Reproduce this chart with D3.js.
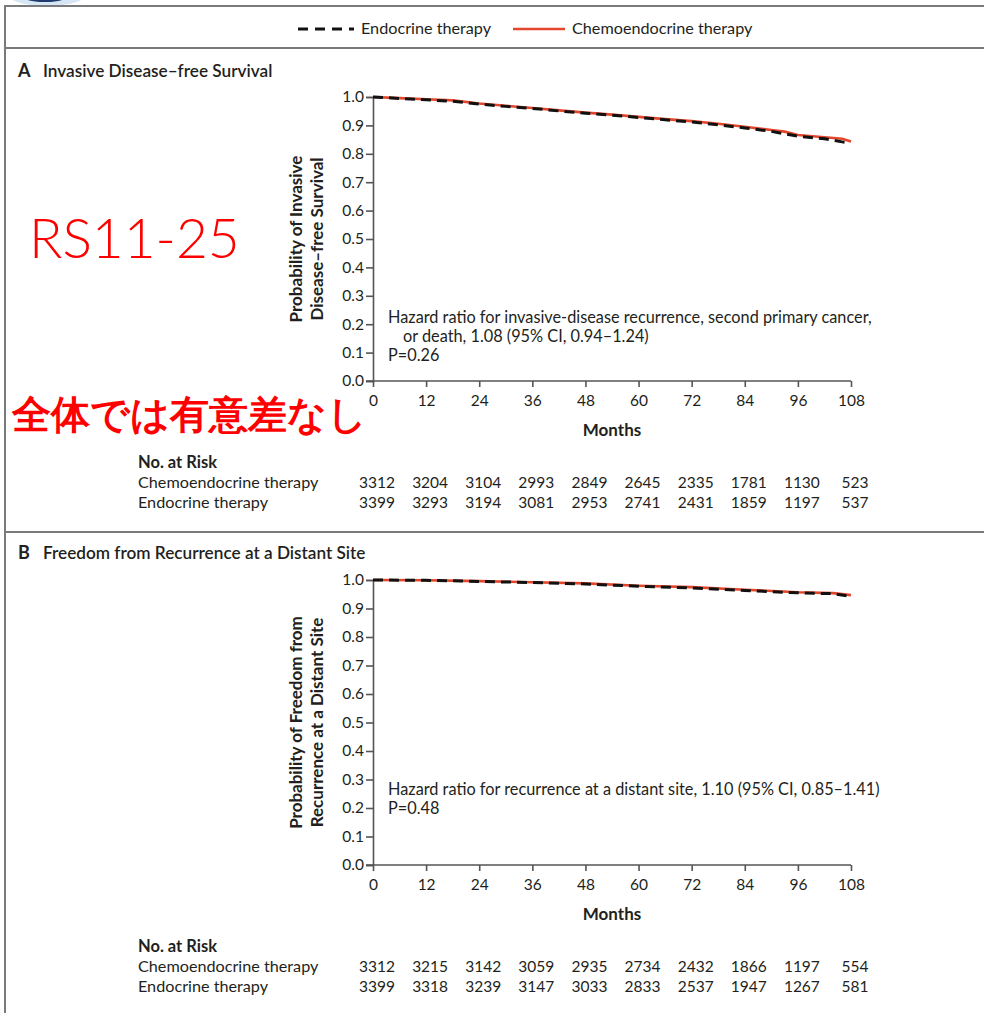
<!DOCTYPE html>
<html>
<head>
<meta charset="utf-8">
<script src="https://cdn.jsdelivr.net/npm/d3@7"></script>
<style>
  html, body { margin: 0; padding: 0; background: #fff; }
  svg { display: block; }
  text { font-family: Lato, "Open Sans", sans-serif; fill: #231f20; }
</style>
</head>
<body>
<svg id="chart" width="984" height="1013"></svg>
<script>
// ---- data ----
const monthTicks = [0, 12, 24, 36, 48, 60, 72, 84, 96, 108];
const yTicks = [0, 0.1, 0.2, 0.3, 0.4, 0.5, 0.6, 0.7, 0.8, 0.9, 1.0];
const seriesNames = ["Endocrine therapy", "Chemoendocrine therapy"];

// Panel A: invasive disease-free survival
const idfsChemoMonths = [0, 6, 12, 18, 24, 30, 36, 42, 48, 54, 60, 66, 72, 78, 84, 90, 93, 96, 102, 106, 108];
const idfsChemoSurv   = [1.0, 0.996, 0.992, 0.988, 0.977, 0.969, 0.961, 0.953, 0.945, 0.938, 0.930, 0.922, 0.915, 0.906, 0.895, 0.884, 0.878, 0.866, 0.858, 0.853, 0.843];
const idfsEndoMonths  = [0, 6, 12, 18, 24, 30, 36, 42, 48, 54, 60, 66, 72, 78, 84, 90, 96, 102, 106, 107];
const idfsEndoSurv    = [1.0, 0.995, 0.990, 0.985, 0.975, 0.967, 0.960, 0.951, 0.943, 0.936, 0.928, 0.920, 0.912, 0.902, 0.891, 0.879, 0.862, 0.853, 0.842, 0.840];
const idfsRiskChemo = [3312, 3204, 3104, 2993, 2849, 2645, 2335, 1781, 1130, 523];
const idfsRiskEndo  = [3399, 3293, 3194, 3081, 2953, 2741, 2431, 1859, 1197, 537];

// Panel B: freedom from distant recurrence
const drfiChemoMonths = [0, 12, 24, 36, 48, 60, 72, 84, 96, 104, 108];
const drfiChemoSurv   = [1.0, 0.999, 0.996, 0.992, 0.988, 0.980, 0.975, 0.966, 0.957, 0.954, 0.947];
const drfiEndoMonths  = [0, 12, 24, 36, 48, 60, 72, 84, 96, 104, 107];
const drfiEndoSurv    = [1.0, 0.999, 0.995, 0.991, 0.986, 0.978, 0.972, 0.963, 0.955, 0.952, 0.945];
const drfiRiskChemo = [3312, 3215, 3142, 3059, 2935, 2734, 2432, 1866, 1197, 554];
const drfiRiskEndo  = [3399, 3318, 3239, 3147, 3033, 2833, 2537, 1947, 1267, 581];

const panels = [
  {
    letter: "A", title: "Invasive Disease\u2013free Survival",
    yTitle: ["Probability of Invasive", "Disease\u2013free Survival"],
    note: ["Hazard ratio for invasive-disease recurrence, second primary cancer,", "or death, 1.08 (95% CI, 0.94\u20131.24)", "P=0.26"],
    chemo: idfsChemoMonths.map((m, i) => [m, idfsChemoSurv[i]]),
    endo: idfsEndoMonths.map((m, i) => [m, idfsEndoSurv[i]]),
    riskChemo: idfsRiskChemo, riskEndo: idfsRiskEndo,
    top: 97, bottom: 381, titleY: 71, noteTop: 323
  },
  {
    letter: "B", title: "Freedom from Recurrence at a Distant Site",
    yTitle: ["Probability of Freedom from", "Recurrence at a Distant Site"],
    note: ["Hazard ratio for recurrence at a distant site, 1.10 (95% CI, 0.85\u20131.41)", "P=0.48"],
    chemo: drfiChemoMonths.map((m, i) => [m, drfiChemoSurv[i]]),
    endo: drfiEndoMonths.map((m, i) => [m, drfiEndoSurv[i]]),
    riskChemo: drfiRiskChemo, riskEndo: drfiRiskEndo,
    top: 580, bottom: 865, titleY: 553, noteTop: 795
  }
];

const RED = "#e2472c";
const FRAME = "#7a7a7a";
const svg = d3.select("#chart");

// ---- logo fragment and frame ----
svg.append("ellipse").attr("cx", 47).attr("cy", -8).attr("rx", 42).attr("ry", 14)
  .attr("fill", "#d7e6f4");
svg.append("ellipse").attr("cx", 45).attr("cy", -9).attr("rx", 30).attr("ry", 11)
  .attr("fill", "#1e3a6e");

svg.append("line").attr("x1", 4).attr("x2", 984).attr("y1", 6).attr("y2", 6)
  .attr("stroke", FRAME).attr("stroke-width", 2);
svg.append("line").attr("x1", 5).attr("x2", 5).attr("y1", 5).attr("y2", 1013)
  .attr("stroke", FRAME).attr("stroke-width", 2);
svg.append("line").attr("x1", 4).attr("x2", 984).attr("y1", 48).attr("y2", 48)
  .attr("stroke", FRAME).attr("stroke-width", 2);
svg.append("line").attr("x1", 4).attr("x2", 984).attr("y1", 532).attr("y2", 532)
  .attr("stroke", FRAME).attr("stroke-width", 2);

// ---- legend ----
const legend = svg.append("g");
legend.append("line").attr("x1", 298).attr("x2", 354).attr("y1", 29).attr("y2", 29)
  .attr("stroke", "#111").attr("stroke-width", 3).attr("stroke-dasharray", "10,7");
legend.append("text").attr("x", 361).attr("y", 34).attr("font-size", 16.2).text(seriesNames[0]);
legend.append("line").attr("x1", 513).attr("x2", 565).attr("y1", 29).attr("y2", 29)
  .attr("stroke", RED).attr("stroke-width", 2.5);
legend.append("text").attr("x", 572).attr("y", 34).attr("font-size", 16.2).text(seriesNames[1]);

// ---- panels ----
const x = d3.scaleLinear().domain([0, 108]).range([373, 851]);

panels.forEach(p => {
  const y = d3.scaleLinear().domain([0, 1]).range([p.bottom, p.top]);
  const g = svg.append("g");

  g.append("text").attr("x", 18).attr("y", p.titleY + 6).attr("font-size", 18)
    .attr("font-weight", 700).text(p.letter);
  g.append("text").attr("x", 43).attr("y", p.titleY + 6).attr("font-size", 17.2)
    .attr("font-weight", 600).text(p.title);

  // y axis
  const yAxis = g.append("g").attr("transform", `translate(${x(0)},0)`)
    .call(d3.axisLeft(y).tickValues(yTicks).tickFormat(d3.format(".1f")).tickSize(7).tickPadding(2));
  // x axis
  const xAxis = g.append("g").attr("transform", `translate(0,${p.bottom})`)
    .call(d3.axisBottom(x).tickValues(monthTicks).tickSize(6).tickPadding(8));
  [yAxis, xAxis].forEach(ax => {
    ax.select(".domain").attr("stroke", "#555").attr("stroke-width", 1.6);
    ax.selectAll(".tick line").attr("stroke", "#555").attr("stroke-width", 1.6);
    ax.selectAll(".tick text").attr("font-size", 15.5).attr("fill", "#231f20")
      .attr("font-family", "Lato, 'Open Sans', sans-serif");
  });
  xAxis.select(".domain").attr("d", `M${x(0) - 7},0H${x(108)}`);

  g.append("text").attr("x", 612).attr("y", p.bottom + 55).attr("text-anchor", "middle")
    .attr("font-size", 17).attr("font-weight", 700).text("Months");

  // y axis title
  const yMid = (p.top + p.bottom) / 2;
  p.yTitle.forEach((line, i) => {
    g.append("text").attr("transform", `translate(${302 + i * 21},${yMid}) rotate(-90)`)
      .attr("text-anchor", "middle").attr("font-size", 17).attr("font-weight", 700).text(line);
  });

  // hazard ratio note
  p.note.forEach((line, i) => {
    const indent = (p.letter === "A" && i === 1) ? 15 : 0;
    g.append("text").attr("x", 388 + indent).attr("y", p.noteTop + i * 19)
      .attr("font-size", 16.3).text(line);
  });

  // survival curves
  const line = d3.line().x(d => x(d[0])).y(d => y(d[1])).curve(d3.curveLinear);
  g.append("path").datum(p.chemo).attr("d", line).attr("fill", "none")
    .attr("stroke", RED).attr("stroke-width", 2.6);
  g.append("path").datum(p.endo).attr("d", line).attr("fill", "none")
    .attr("stroke", "#111").attr("stroke-width", 3).attr("stroke-dasharray", "10,6");

  // number at risk
  const riskTop = p.bottom + 87;
  g.append("text").attr("x", 138).attr("y", riskTop).attr("font-size", 16.5)
    .attr("font-weight", 700).text("No. at Risk");
  [[seriesNames[1], p.riskChemo], [seriesNames[0], p.riskEndo]].forEach(([name, vals], r) => {
    const ry = riskTop + 20 + r * 20;
    g.append("text").attr("x", 138).attr("y", ry).attr("font-size", 16.2).text(name);
    g.selectAll(null).data(vals).join("text")
      .attr("x", (d, i) => x(monthTicks[i]) + 4).attr("y", ry)
      .attr("text-anchor", "middle").attr("font-size", 15.5).text(d => d);
  });
});

// ---- red overlay notes ----
svg.append("text").attr("x", 29).attr("y", 258)
  .attr("font-family", "'Noto Sans CJK JP', sans-serif").attr("font-weight", 300)
  .attr("font-size", 55).style("fill", "#ff0000").text("RS11-25");
svg.append("text").attr("x", 12).attr("y", 428)
  .attr("font-family", "'Noto Sans CJK JP', sans-serif").attr("font-weight", 700)
  .attr("font-size", 39).style("fill", "#ff0000").text("全体では有意差なし");
</script>
</body>
</html>
